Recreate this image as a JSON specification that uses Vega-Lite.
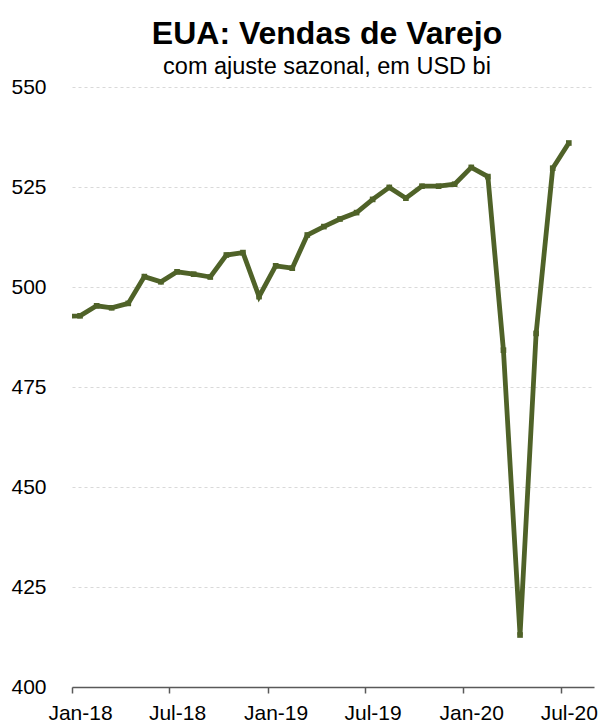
{
  "$schema": "https://vega.github.io/schema/vega-lite/v6.json",
  "width": 522,
  "height": 600,
  "autosize": {"type": "none"},
  "padding": {"left": 72, "top": 87, "right": 6, "bottom": 35},
  "background": "white",
  "title": {
    "text": "EUA: Vendas de Varejo",
    "subtitle": "com ajuste sazonal, em USD bi",
    "anchor": "middle",
    "font": "Liberation Sans",
    "fontSize": 32,
    "fontWeight": "bold",
    "color": "#000000",
    "subtitleFont": "Liberation Sans",
    "subtitleFontSize": 23.5,
    "subtitleColor": "#000000",
    "subtitlePadding": 4,
    "offset": -3,
    "dx": -6
  },
  "config": {
    "view": {"stroke": null},
    "axis": {"labelFont": "Liberation Sans", "labelFontSize": 21, "labelColor": "#000000"}
  },
  "data": {
    "values": [
      {"date": "2017-12-16T00:00:00", "value": 492.6},
      {"date": "2018-01-16T00:00:00", "value": 492.8},
      {"date": "2018-02-16T00:00:00", "value": 495.3},
      {"date": "2018-03-16T00:00:00", "value": 494.8},
      {"date": "2018-04-16T00:00:00", "value": 495.9},
      {"date": "2018-05-16T00:00:00", "value": 502.6},
      {"date": "2018-06-16T00:00:00", "value": 501.3},
      {"date": "2018-07-16T00:00:00", "value": 503.8},
      {"date": "2018-08-16T00:00:00", "value": 503.2},
      {"date": "2018-09-16T00:00:00", "value": 502.5},
      {"date": "2018-10-16T00:00:00", "value": 508.0},
      {"date": "2018-11-16T00:00:00", "value": 508.6},
      {"date": "2018-12-16T00:00:00", "value": 497.6},
      {"date": "2019-01-16T00:00:00", "value": 505.3},
      {"date": "2019-02-16T00:00:00", "value": 504.7},
      {"date": "2019-03-16T00:00:00", "value": 513.0},
      {"date": "2019-04-16T00:00:00", "value": 515.1},
      {"date": "2019-05-16T00:00:00", "value": 517.0},
      {"date": "2019-06-16T00:00:00", "value": 518.6},
      {"date": "2019-07-16T00:00:00", "value": 521.9},
      {"date": "2019-08-16T00:00:00", "value": 524.9},
      {"date": "2019-09-16T00:00:00", "value": 522.2},
      {"date": "2019-10-16T00:00:00", "value": 525.2},
      {"date": "2019-11-16T00:00:00", "value": 525.2},
      {"date": "2019-12-16T00:00:00", "value": 525.7},
      {"date": "2020-01-16T00:00:00", "value": 529.9},
      {"date": "2020-02-16T00:00:00", "value": 527.6},
      {"date": "2020-03-16T00:00:00", "value": 484.2},
      {"date": "2020-04-16T00:00:00", "value": 413.0},
      {"date": "2020-05-16T00:00:00", "value": 488.4},
      {"date": "2020-06-16T00:00:00", "value": 529.7},
      {"date": "2020-07-16T00:00:00", "value": 536.0}
    ]
  },
  "encoding": {
    "x": {
      "field": "date",
      "type": "temporal",
      "scale": {"domain": [{"year": 2018, "month": 1, "date": 1}, {"year": 2020, "month": 9, "date": 1}]},
      "axis": {
        "title": null,
        "grid": false,
        "values": [
          {"year": 2018, "month": 1, "date": 1},
          {"year": 2018, "month": 7, "date": 1},
          {"year": 2019, "month": 1, "date": 1},
          {"year": 2019, "month": 7, "date": 1},
          {"year": 2020, "month": 1, "date": 1},
          {"year": 2020, "month": 7, "date": 1}
        ],
        "format": "%b-%y",
        "labelAngle": 0,
        "labelOffset": 8,
        "labelPadding": 9,
        "labelFlush": false,
        "labelOverlap": false,
        "tickSize": 6,
        "tickWidth": 1.5,
        "tickColor": "#595959",
        "domainColor": "#595959",
        "domainWidth": 1.5
      }
    },
    "y": {
      "field": "value",
      "type": "quantitative",
      "scale": {"domain": [400, 550], "nice": false, "zero": false},
      "axis": {
        "title": null,
        "values": [400, 425, 450, 475, 500, 525, 550],
        "grid": true,
        "gridColor": "#d9d9d9",
        "gridDash": [3, 3],
        "gridWidth": 1,
        "domain": false,
        "ticks": false,
        "labelPadding": 26
      }
    }
  },
  "layer": [
    {"mark": {"type": "line", "color": "#4F6228", "strokeWidth": 4.8, "clip": true}},
    {"mark": {"type": "point", "shape": "square", "filled": true, "color": "#4F6228", "size": 32, "opacity": 1, "clip": true}}
  ]
}
